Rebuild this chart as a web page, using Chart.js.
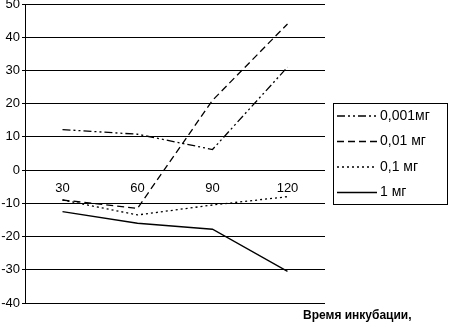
<!DOCTYPE html>
<html>
<head>
<meta charset="utf-8">
<script src="https://cdn.jsdelivr.net/npm/chart.js@4"></script>
<style>
  html, body { margin: 0; padding: 0; background: #fff; }
  #wrap { width: 450px; height: 323px; }
</style>
</head>
<body>
<div id="wrap"><canvas id="graphicChart" width="450" height="323"></canvas></div>
<script>
const categorias = ["30", "60", "90", "120"];
const serieNombres = ["0,001мг", "0,01 мг", "0,1 мг", "1 мг"];
const mg0001 = [12.2, 10.8, 6.2, 31];
const mg001 = [-9, -11.5, 21, 44];
const mg01 = [-9, -13.5, -10.5, -8];
const mg1 = [-12.5, -16, -17.8, -30.5];
const yTicks = [50, 40, 30, 20, 10, 0, -10, -20, -30, -40];
const tituloX = "Время инкубации,";

const FONT = "'Liberation Sans', Arial, sans-serif";
const dashes = [[8, 3, 2, 3, 2, 3], [7, 4], [2, 3], []];

// leyenda con recuadro y titulo del eje X, dibujados a mano
const extras = {
  id: "extras",
  afterDraw(chart) {
    const ctx = chart.ctx;
    ctx.save();
    const bx = 333, by = 103, bw = 114, bh = 101;
    ctx.strokeStyle = "#000";
    ctx.lineWidth = 1;
    ctx.setLineDash([]);
    ctx.strokeRect(bx + 0.5, by + 0.5, bw, bh);
    ctx.font = "14px " + FONT;
    ctx.textBaseline = "middle";
    ctx.fillStyle = "#000";
    chart.data.datasets.forEach((ds, i) => {
      const y = by + 13 + i * 25.5;
      ctx.beginPath();
      ctx.setLineDash(ds.borderDash);
      ctx.lineWidth = 1.5;
      ctx.moveTo(337, y);
      ctx.lineTo(377, y);
      ctx.stroke();
      ctx.setLineDash([]);
      ctx.fillText(ds.label, 380, y);
    });
    ctx.font = "bold 12px " + FONT;
    ctx.textBaseline = "middle";
    ctx.fillText(tituloX, 303, 316);
    ctx.restore();
  },
};

new Chart(document.getElementById("graphicChart"), {
  type: "line",
  data: {
    labels: categorias,
    datasets: [mg0001, mg001, mg01, mg1].map((d, i) => ({
      label: serieNombres[i],
      data: d,
      borderColor: "#000",
      borderWidth: 1.3,
      borderDash: dashes[i],
      pointRadius: 0,
      tension: 0,
      fill: false,
    })),
  },
  options: {
    responsive: false,
    animation: false,
    layout: { padding: { top: 4, right: 125, bottom: 20, left: 0 } },
    plugins: { legend: { display: false }, tooltip: { enabled: false } },
    scales: {
      x: {
        type: "category",
        offset: true,
        position: { y: 0 },
        grid: { display: false },
        border: { display: false },
        ticks: { color: "#000", font: { family: FONT, size: 13 }, padding: 3, maxRotation: 0 },
      },
      y: {
        min: -40,
        max: 50,
        afterFit: (s) => { s.width = 25; s.paddingTop = 0; s.paddingBottom = 0; },
        afterBuildTicks: (s) => { s.ticks = yTicks.map((v) => ({ value: v })); },
        grid: { color: "#000", lineWidth: 1, tickLength: 3 },
        border: { color: "#000", width: 1 },
        ticks: { color: "#000", font: { family: FONT, size: 13 }, padding: 2 },
      },
    },
  },
  plugins: [extras],
});
</script>
</body>
</html>
